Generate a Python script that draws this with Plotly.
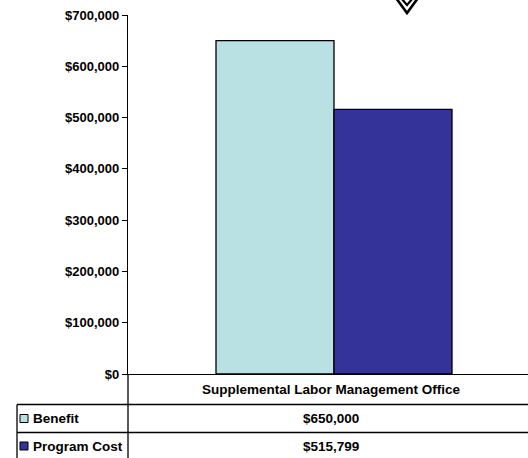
import plotly.graph_objects as go

# Chart data
category = ["Supplemental Labor Management Office"]
series_names = ["Benefit", "Program Cost"]
benefit = [650000]
program_cost = [515799]
series_colors = ["#B9E0E3", "#333399"]
y_ticks = [0, 100000, 200000, 300000, 400000, 500000, 600000, 700000]
y_tick_labels = ["$0", "$100,000", "$200,000", "$300,000", "$400,000",
                 "$500,000", "$600,000", "$700,000"]

W, H = 528, 458
L, R, T, B = 128, 0, 15, 84
PW, PH = W - L - R, H - T - B
FAMILY = "Liberation Sans, Arial, sans-serif"
TICK_FONT = dict(family=FAMILY, size=13, color="black", weight="bold")
TABLE_FONT = dict(family=FAMILY, size=13.5, color="black", weight="bold")


def px(x):
    return (x - L) / PW


def py(y):
    return (H - B - y) / PH


fig = go.Figure()
for name, vals, col in zip(series_names, [benefit, program_cost], series_colors):
    fig.add_trace(go.Bar(
        x=category, y=vals, name=name,
        marker=dict(color=col, line=dict(color="black", width=1.3)),
        showlegend=False,
    ))

fig.update_layout(
    width=W, height=H,
    margin=dict(l=L, r=R, t=T, b=B),
    paper_bgcolor="white", plot_bgcolor="white",
    barmode="group", bargap=0.41, bargroupgap=0,
    font=TICK_FONT,
    xaxis=dict(range=[-0.515, 0.485], showticklabels=False, ticks="",
               showline=True, linecolor="black", linewidth=1.3,
               showgrid=False, zeroline=False),
    yaxis=dict(range=[0, 700000], tickvals=y_ticks, ticktext=y_tick_labels,
               ticks="outside", ticklen=5, tickwidth=1.3, tickcolor="black",
               showline=True, linecolor="black", linewidth=1.3,
               showgrid=False, zeroline=False, tickfont=TICK_FONT),
)

shapes = []
line = dict(color="black", width=1.3)
# Data table grid below the plot
shapes.append(dict(type="line", xref="paper", yref="paper",
                   x0=0, x1=0, y0=py(374), y1=py(470), line=line))
shapes.append(dict(type="line", xref="paper", yref="paper",
                   x0=px(17), x1=px(17), y0=py(404.5), y1=py(470), line=line))
for yy in (404.5, 432.5):
    shapes.append(dict(type="line", xref="paper", yref="paper",
                       x0=px(17), x1=1, y0=py(yy), y1=py(yy), line=line))

annotations = []
cx = px(331)
annotations.append(dict(xref="paper", yref="paper", x=cx, y=py(389.5),
                        xanchor="center", yanchor="middle",
                        text=category[0], showarrow=False, font=TABLE_FONT))
row_y = [418.5, 446]
for name, vals, col, ry in zip(series_names, [benefit, program_cost], series_colors, row_y):
    shapes.append(dict(type="rect", xref="paper", yref="paper",
                       x0=px(20), x1=px(28), y0=py(ry + 4), y1=py(ry - 4),
                       fillcolor=col, line=dict(color="black", width=1)))
    annotations.append(dict(xref="paper", yref="paper", x=px(31), y=py(ry),
                            xanchor="left", yanchor="middle",
                            text=name, showarrow=False, font=TABLE_FONT))
    annotations.append(dict(xref="paper", yref="paper", x=cx, y=py(ry),
                            xanchor="center", yanchor="middle",
                            text="${:,.0f}".format(vals[0]), showarrow=False, font=TABLE_FONT))

# Downward arrow head at the top of the chart
shapes.append(dict(type="path", xref="paper", yref="paper",
                   path="M {} {} L {} {} L {} {}".format(px(396), py(-2), px(407), py(13), px(418), py(-2)),
                   line=dict(color="black", width=2.6)))
shapes.append(dict(type="path", xref="paper", yref="paper",
                   path="M {} {} L {} {} L {} {}".format(px(401), py(-2), px(407), py(5), px(413), py(-2)),
                   line=dict(color="black", width=2.2)))

fig.update_layout(shapes=shapes, annotations=annotations)
fig.write_html("out.html")
